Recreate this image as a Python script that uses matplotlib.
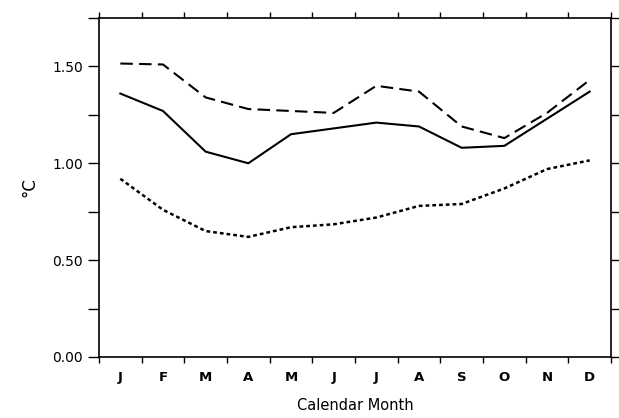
import matplotlib.pyplot as plt
import numpy as np

months = ['J', 'F', 'M', 'A', 'M', 'J', 'J', 'A', 'S', 'O', 'N', 'D']
solid_vals = [1.36, 1.27, 1.06, 1.00, 1.15, 1.18, 1.21, 1.19, 1.08, 1.09, 1.23, 1.37]
dashed_vals = [1.515, 1.51, 1.34, 1.28, 1.27, 1.26, 1.40, 1.37, 1.19, 1.13, 1.26, 1.43]
dotted_vals = [0.92, 0.76, 0.65, 0.62, 0.67, 0.685, 0.72, 0.78, 0.79, 0.87, 0.97, 1.015]

fig = plt.figure(figsize=(6.19, 4.18), dpi=100)
ax = fig.add_axes([99/619, 61/418, 512/619, 339/418])

x = np.arange(12) + 0.5
ax.plot(x, solid_vals, color='black', lw=1.5)
ax.plot(x, dashed_vals, color='black', lw=1.5, dashes=(6, 3))
ax.plot(x, dotted_vals, color='black', lw=1.8, dashes=(1.5, 1.2))

ax.set_xlim(0, 12)
ax.set_ylim(0, 1.75)

# ticks at month boundaries, labels at centres
ax.set_xticks(np.arange(13))
ax.set_xticklabels([])
ax.set_xticks(x, minor=True)
ax.set_xticklabels(months, minor=True, fontweight='bold')
ax.tick_params(axis='x', which='minor', length=0, pad=10, labelsize=9.5)
ax.tick_params(axis='x', which='major', direction='out', length=4, width=1,
               top=True, bottom=True)

ax.set_yticks([0, 0.5, 1.0, 1.5])
ax.set_yticklabels(['0.00', '0.50', '1.00', '1.50'])
ax.set_yticks([0.25, 0.75, 1.25, 1.75], minor=True)
ax.tick_params(axis='y', which='both', direction='out', length=8, width=1,
               left=True, right=True, labelsize=10)

for s in ax.spines.values():
    s.set_linewidth(1.2)

ax.set_xlabel('Calendar Month', fontsize=10.5, labelpad=10)
ax.set_ylabel('°C', fontsize=12, labelpad=10)

fig.savefig('out.png', dpi=100)
